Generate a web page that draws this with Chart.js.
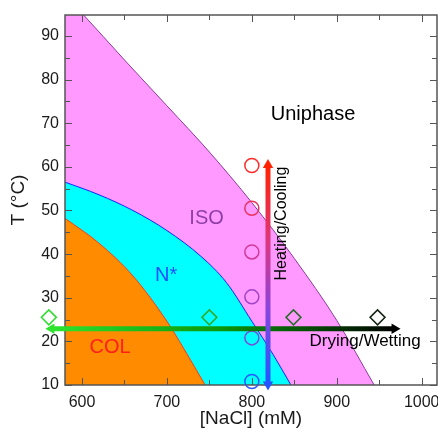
<!DOCTYPE html>
<html>
<head>
<meta charset="utf-8">
<script src="https://cdn.jsdelivr.net/npm/chart.js@4/dist/chart.umd.min.js"></script>
<style>
  body { margin: 0; background: #fff; }
  #wrap { width: 438px; height: 432px; position: relative; }
</style>
</head>
<body>
<div id="wrap"><canvas id="phaseChart"></canvas></div>
<script>
// phase boundaries ([NaCl] in mM, T in °C)
const isoX = [580, 600, 650, 700, 750, 800, 850, 900, 944];
const isoT = [99.3, 95.2, 84.5, 74.0, 63.4, 51.8, 39.0, 24.8, 10];
const nemX = [580, 620, 660, 700, 740, 770, 800, 825, 846];
const nemT = [56.5, 53.6, 50.0, 45.4, 39.5, 33.5, 24.6, 17.0, 10];
const colX = [580, 620, 660, 700, 720, 745];
const colT = [48.2, 42.5, 35.0, 24.6, 18.3, 10];

// samples
const circleX = 800;
const circleT = [10.8, 20.8, 30.2, 40.5, 50.5, 60.3];
const circleColors = ['#2a55ff', '#7f48dc', '#a044c4', '#cf3c98', '#e8335f', '#ff2a2a'];
const diamondX = [561, 750, 849, 948];
const diamondT = 25.5;
const diamondColors = ['#30dd30', '#33aa28', '#2a6a2a', '#142414'];

// arrows
const dryX = [564, 968];
const dryT = 22.9;
const heatX = 819;
const heatT = [10.1, 60.4];

const xTicks = [600, 700, 800, 900, 1000];
const yTicks = [10, 20, 30, 40, 50, 60, 70, 80, 90];

const FONT = '"Liberation Sans", Arial, Helvetica, sans-serif';

function pts(xs, ys) {
    return xs.map((x, i) => ({ x: x, y: ys[i] }));
}

function boundary(xs, ys, fillColor, lineColor, order) {
    return {
        data: pts(xs, ys),
        showLine: true,
        fill: 'start',
        backgroundColor: fillColor,
        borderColor: lineColor,
        borderWidth: 1,
        pointRadius: 0,
        cubicInterpolationMode: 'monotone',
        order: order
    };
}

// frame with inward ticks on all four sides, drawn over the filled regions
const framePlugin = {
    id: 'frame',
    afterDatasetDraw(chart, args) {
        if (args.index !== 2) return;
        const { ctx, chartArea: a, scales } = chart;
        ctx.save();
        ctx.strokeStyle = '#555';
        ctx.lineWidth = 1;
        for (let v = 600; v <= 1000; v += 50) {
            const px = Math.round(scales.x.getPixelForValue(v)) + 0.5;
            const len = v % 100 === 0 ? 7 : 5;
            ctx.beginPath();
            ctx.moveTo(px, a.bottom); ctx.lineTo(px, a.bottom - len);
            ctx.moveTo(px, a.top); ctx.lineTo(px, a.top + len);
            ctx.stroke();
        }
        for (let v = 10; v <= 90; v += 5) {
            const py = Math.round(scales.y.getPixelForValue(v)) + 0.5;
            const len = v % 10 === 0 ? 7 : 5;
            ctx.beginPath();
            ctx.moveTo(a.left, py); ctx.lineTo(a.left + len, py);
            ctx.moveTo(a.right, py); ctx.lineTo(a.right - len, py);
            ctx.stroke();
        }
        ctx.lineWidth = 1.5;
        ctx.strokeRect(a.left, a.top, a.right - a.left, a.bottom - a.top);
        ctx.restore();
    }
};

// Chart.js skips points that lie outside the plot area; draw those ones here
const outsidePlugin = {
    id: 'outside',
    afterDatasetDraw(chart, args) {
        if (!chart.data.datasets[args.index].drawOutside) return;
        const a = chart.chartArea;
        const big = { left: -1e4, top: -1e4, right: 1e4, bottom: 1e4 };
        args.meta.data.forEach(el => {
            if (el.x < a.left || el.x > a.right || el.y < a.top || el.y > a.bottom) {
                el.draw(chart.ctx, big);
            }
        });
    }
};

// region names and arrow captions
const labelPlugin = {
    id: 'labels',
    afterDatasetsDraw(chart) {
        const { ctx, scales } = chart;
        const items = [
            { t: 'Uniphase', x: 872, y: 72.0, c: '#000', s: 20 },
            { t: 'ISO', x: 746.7, y: 48.1, c: '#8e3fa6', s: 20 },
            { t: 'N*', x: 699, y: 35.1, c: '#1f4fff', s: 20 },
            { t: 'COL', x: 633, y: 18.6, c: '#ff1f1f', s: 20 },
            { t: 'Drying/Wetting', x: 933.4, y: 20.0, c: '#000', s: 17 },
            { t: 'Heating/Cooling', x: 835.6, y: 47.0, c: '#000', s: 16, rot: true }
        ];
        ctx.save();
        ctx.textAlign = 'center';
        ctx.textBaseline = 'middle';
        items.forEach(it => {
            const px = scales.x.getPixelForValue(it.x);
            const py = scales.y.getPixelForValue(it.y);
            ctx.font = it.s + 'px ' + FONT;
            ctx.fillStyle = it.c;
            if (it.rot) {
                ctx.save();
                ctx.translate(px, py);
                ctx.rotate(-Math.PI / 2);
                ctx.fillText(it.t, 0, 0);
                ctx.restore();
            } else {
                ctx.fillText(it.t, px, py);
            }
        });
        ctx.restore();
    }
};

const ctx = document.getElementById('phaseChart').getContext('2d');

new Chart(ctx, {
    type: 'scatter',
    data: {
        datasets: [
            boundary(isoX, isoT, '#ff99ff', '#8b3a9b', 10),
            boundary(nemX, nemT, '#00ffff', '#2020ff', 9),
            boundary(colX, colT, '#ff8c00', '#ff3a10', 8),
            {
                // samples along the drying path
                data: diamondX.map(x => ({ x: x, y: diamondT })),
                pointStyle: 'rectRot',
                pointRadius: 7.5,
                pointBorderWidth: 1.5,
                pointBackgroundColor: 'rgba(0,0,0,0)',
                pointBorderColor: diamondColors,
                clip: false,
                drawOutside: true,
                order: 5
            },
            {
                // samples along the heating path
                data: circleT.map(t => ({ x: circleX, y: t })),
                pointStyle: 'circle',
                pointRadius: 7,
                pointBorderWidth: 1.5,
                pointBackgroundColor: 'rgba(0,0,0,0)',
                pointBorderColor: circleColors,
                clip: false,
                order: 4
            },
            {
                // drying / wetting arrow
                data: dryX.map(x => ({ x: x, y: dryT })),
                showLine: true,
                borderWidth: 5,
                borderColor: function (context) {
                    const { chart } = context;
                    if (!chart.chartArea) return '#0a0';
                    const x0 = chart.scales.x.getPixelForValue(dryX[0]);
                    const x1 = chart.scales.x.getPixelForValue(dryX[1]);
                    const g = chart.ctx.createLinearGradient(x0, 0, x1, 0);
                    g.addColorStop(0, '#2ee42e');
                    g.addColorStop(0.5, '#0a960a');
                    g.addColorStop(1, '#000000');
                    return g;
                },
                pointStyle: 'triangle',
                pointRadius: 6,
                pointRotation: [270, 90],
                pointBorderWidth: 0,
                pointBackgroundColor: ['#2ee42e', '#000000'],
                pointBorderColor: ['#2ee42e', '#000000'],
                clip: false,
                drawOutside: true,
                order: 2
            },
            {
                // heating / cooling arrow
                data: heatT.map(t => ({ x: heatX, y: t })),
                showLine: true,
                borderWidth: 5,
                borderColor: function (context) {
                    const { chart } = context;
                    if (!chart.chartArea) return '#a4c';
                    const y0 = chart.scales.y.getPixelForValue(heatT[0]);
                    const y1 = chart.scales.y.getPixelForValue(heatT[1]);
                    const g = chart.ctx.createLinearGradient(0, y0, 0, y1);
                    g.addColorStop(0, '#2255ff');
                    g.addColorStop(0.35, '#8a44dc');
                    g.addColorStop(0.65, '#dd3680');
                    g.addColorStop(1, '#ff2200');
                    return g;
                },
                pointStyle: 'triangle',
                pointRadius: 6,
                pointRotation: [180, 0],
                pointBorderWidth: 0,
                pointBackgroundColor: ['#2255ff', '#ff2200'],
                pointBorderColor: ['#2255ff', '#ff2200'],
                clip: false,
                drawOutside: true,
                order: 1
            }
        ]
    },
    options: {
        responsive: true,
        maintainAspectRatio: false,
        animation: false,
        events: [],
        layout: { autoPadding: false, padding: { top: 15, right: 1, bottom: 0, left: 0 } },
        plugins: {
            legend: { display: false },
            tooltip: { enabled: false }
        },
        scales: {
            x: {
                type: 'linear',
                min: 580,
                max: 1018,
                grid: { display: false, drawTicks: false },
                border: { display: false },
                afterBuildTicks: s => { s.ticks = xTicks.map(v => ({ value: v })); },
                afterFit: s => { s.height = 47; s.paddingLeft = 0; s.paddingRight = 0; },
                ticks: {
                    padding: 8,
                    color: '#1a1a1a',
                    maxRotation: 0,
                    autoSkip: false,
                    callback: v => String(v),
                    font: { family: FONT, size: 16 }
                },
                title: {
                    display: true,
                    text: '[NaCl] (mM)',
                    color: '#1a1a1a',
                    padding: { top: 0, bottom: 2 },
                    font: { family: FONT, size: 19 }
                }
            },
            y: {
                type: 'linear',
                min: 10,
                max: 94.8,
                grid: { display: false, drawTicks: false },
                border: { display: false },
                afterBuildTicks: s => { s.ticks = yTicks.map(v => ({ value: v })); },
                afterFit: s => { s.width = 65; s.paddingTop = 0; s.paddingBottom = 0; },
                ticks: {
                    padding: 6,
                    color: '#1a1a1a',
                    autoSkip: false,
                    callback: v => String(v),
                    font: { family: FONT, size: 16 }
                },
                title: {
                    display: true,
                    text: 'T (°C)',
                    color: '#1a1a1a',
                    padding: { top: 7, bottom: 0 },
                    font: { family: FONT, size: 19 }
                }
            }
        }
    },
    plugins: [framePlugin, outsidePlugin, labelPlugin]
});
</script>
</body>
</html>
